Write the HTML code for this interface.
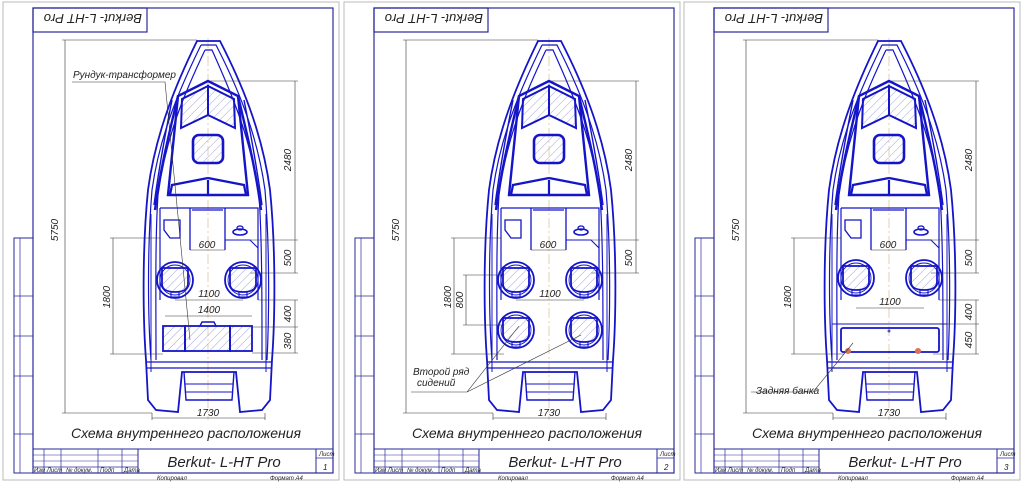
<!DOCTYPE html>
<html><head><meta charset="utf-8"><style>
html,body{margin:0;padding:0;background:#fff;}
svg{display:block;font-family:"Liberation Sans",sans-serif;}
.t{font-style:italic;fill:#222;}
</style></head><body>
<svg width="1024" height="483" viewBox="0 0 1024 483" xmlns="http://www.w3.org/2000/svg">
<defs>
<pattern id="h" width="6" height="6" patternUnits="userSpaceOnUse" patternTransform="rotate(45)">
<line x1="0" y1="0" x2="0" y2="6" stroke="#8a8ad0" stroke-width="0.8"/></pattern>
<g id="frame">
 <rect x="3" y="2" width="336" height="478" fill="none" stroke="#bbb" stroke-width="1"/>
 <rect x="33" y="8" width="300" height="465" fill="none" stroke="#2a2a9a" stroke-width="1.2"/>
 <rect x="33" y="8" width="114" height="24" fill="none" stroke="#2a2a9a" stroke-width="1.2"/>
 <rect x="14" y="238" width="19" height="235" fill="none" stroke="#2a2a9a" stroke-width="1"/>
 <line x1="20" y1="238" x2="20" y2="473" stroke="#2a2a9a" stroke-width="0.7"/>
 <line x1="14" y1="296" x2="33" y2="296" stroke="#2a2a9a" stroke-width="0.7"/>
 <line x1="14" y1="336" x2="33" y2="336" stroke="#2a2a9a" stroke-width="0.7"/>
 <line x1="14" y1="376" x2="33" y2="376" stroke="#2a2a9a" stroke-width="0.7"/>
 <line x1="14" y1="434" x2="33" y2="434" stroke="#2a2a9a" stroke-width="0.7"/>
 <rect x="33" y="449" width="300" height="24" fill="none" stroke="#2a2a9a" stroke-width="1"/>
 <line x1="138" y1="449" x2="138" y2="473" stroke="#2a2a9a" stroke-width="1"/>
 <line x1="316" y1="449" x2="316" y2="473" stroke="#2a2a9a" stroke-width="1"/>
 <line x1="316" y1="458" x2="333" y2="458" stroke="#2a2a9a" stroke-width="0.7"/>
 <line x1="44" y1="449" x2="44" y2="473" stroke="#2a2a9a" stroke-width="0.7"/>
 <line x1="61" y1="449" x2="61" y2="473" stroke="#2a2a9a" stroke-width="0.7"/>
 <line x1="98" y1="449" x2="98" y2="473" stroke="#2a2a9a" stroke-width="0.7"/>
 <line x1="122" y1="449" x2="122" y2="473" stroke="#2a2a9a" stroke-width="0.7"/>
 <line x1="33" y1="455" x2="138" y2="455" stroke="#2a2a9a" stroke-width="0.5"/>
 <line x1="33" y1="461" x2="138" y2="461" stroke="#2a2a9a" stroke-width="0.5"/>
 <line x1="33" y1="467" x2="138" y2="467" stroke="#2a2a9a" stroke-width="0.7"/>
 <line x1="208" y1="38" x2="208" y2="420" stroke="#d8b080" stroke-width="0.6" stroke-dasharray="10 3 2 3"/>
 <g fill="none" stroke="#1414c8">
  <path d="M197 41 L220 41 C240 80 262 130 270 190 C276 250 275 320 272 360 L270 400 L262 410 L240 412 L236 372 L182 372 L178 412 L156 410 L148 400 L146 360 C143 320 142 250 148 190 C156 130 178 80 197 41 Z" stroke-width="1.8"/>
  <path d="M201 45 L216 45 C236 84 257 132 265 190 C270 250 269 320 267 360 M201 45 C182 84 160 132 152 190 C147 250 148 320 151 360" stroke-width="1.2"/>
  <path d="M205 50 L212 50 C230 90 250 135 259 195 C262 240 262 300 262 360 M205 50 C186 90 166 135 158 195 C155 240 156 300 156 360" stroke-width="1.2"/>
  <path d="M151 214 L151 372 M266 214 L266 372" stroke-width="1"/>
  <line x1="146" y1="362" x2="272" y2="362" stroke-width="1.2"/>
  <line x1="146" y1="368" x2="272" y2="368" stroke-width="1.2"/>
  <path d="M184 372 L186 400 L232 400 L234 372" stroke-width="1.4"/>
  <line x1="185" y1="384" x2="233" y2="384" stroke-width="0.9"/>
  <line x1="185" y1="392" x2="233" y2="392" stroke-width="0.9"/>
  <path d="M208 81 L178 96 L168 195 L248 195 L238 96 Z" stroke-width="2.4"/>
  <path d="M208 86 L182 99 L181 128 L208 115 Z M208 86 L234 99 L235 128 L208 115 Z" stroke-width="2" fill="url(#h)"/>
  <path d="M178 96 C170 130 160 170 155 210 M238 96 C246 130 256 170 261 210" stroke-width="2.4"/>
  <path d="M172 100 C164 140 158 175 154 205 M244 100 C252 140 258 175 262 205" stroke-width="1.4"/>
  <path d="M208 178 L172 185 L170 195 M208 178 L244 185 L246 195 M208 180 L208 195" stroke-width="2.2"/>
  <rect x="193" y="135" width="30" height="28" rx="6" stroke-width="2.6" fill="url(#h)"/>
  <path d="M160 208 L258 208 L258 300 M160 208 L160 300" stroke-width="1.2"/>
  <path d="M190 208 L190 250 M225 208 L225 250 M192 210 L223 210" stroke-width="1.3"/>
  <path d="M164 220 L180 220 L180 238 L170 238 L164 230 Z" stroke-width="1.3"/>
  <path d="M225 240 L250 240 L258 248" stroke-width="1.1"/>
  <ellipse cx="240" cy="232" rx="7" ry="3" stroke-width="1.6"/>
  <ellipse cx="240" cy="228" rx="3" ry="2" stroke-width="1.3"/>
 </g>
</g>
<g id="seat" fill="none" stroke="#1414c8">
 <circle cx="0" cy="0" r="18" stroke-width="1.8"/>
 <circle cx="0" cy="0" r="15" stroke-width="0.9"/>
 <path d="M-13 -12 L13 -12 L13 4 C13 10 7 12 0 12 C-7 12 -13 10 -13 4 Z" stroke-width="1.8" fill="url(#h)"/>
 <rect x="-4" y="12" width="8" height="5" stroke-width="1.1"/>
</g>
<g id="dims" fill="none" stroke="#333" stroke-width="0.6">
 <line x1="62" y1="40" x2="197" y2="40"/><line x1="62" y1="413" x2="152" y2="413"/>
 <line x1="65" y1="40" x2="65" y2="413"/>
 <line x1="210" y1="81" x2="298" y2="81"/><line x1="250" y1="240" x2="298" y2="240"/><line x1="250" y1="273" x2="298" y2="273"/>
 <line x1="295" y1="81" x2="295" y2="273"/>
 <line x1="152" y1="413" x2="152" y2="420"/><line x1="265" y1="413" x2="265" y2="420"/>
 <line x1="152" y1="418" x2="265" y2="418"/>
 <line x1="190" y1="250" x2="225" y2="250"/>
 <line x1="110" y1="238" x2="160" y2="238"/>
 <line x1="113" y1="238" x2="113" y2="354"/>
</g>
</defs>

<g><use href="#frame"/><use href="#dims"/></g>
<g transform="translate(341,0)"><use href="#frame"/><use href="#dims"/></g>
<g transform="translate(681,0)"><use href="#frame"/><use href="#dims"/></g>

<g>
 <use href="#seat" x="175" y="280"/><use href="#seat" x="243" y="280"/>
 <g fill="url(#h)" stroke="#1414c8" stroke-width="1.8">
  <rect x="163" y="326" width="22" height="25"/><rect x="185" y="326" width="45" height="25"/><rect x="230" y="326" width="22" height="25"/>
 </g>
 <path d="M200 326 L202 322 L214 322 L216 326" fill="none" stroke="#1414c8" stroke-width="1.4"/>
 <g fill="none" stroke="#333" stroke-width="0.6">
  <line x1="110" y1="354" x2="163" y2="354"/>
  <line x1="175" y1="300" x2="243" y2="300"/><line x1="165" y1="316" x2="252" y2="316"/>
  <line x1="258" y1="300" x2="298" y2="300"/><line x1="252" y1="327" x2="298" y2="327"/><line x1="252" y1="353" x2="298" y2="353"/>
  <line x1="295" y1="300" x2="295" y2="353"/>
  <path d="M72 82 L165 82 L190 340"/>
 </g>
</g>
<g transform="translate(341,0)">
 <use href="#seat" x="175" y="280"/><use href="#seat" x="243" y="280"/>
 <use href="#seat" x="175" y="330"/><use href="#seat" x="243" y="330"/>
 <g fill="none" stroke="#333" stroke-width="0.6">
  <line x1="110" y1="354" x2="163" y2="354"/>
  <line x1="175" y1="300" x2="243" y2="300"/>
  <line x1="122" y1="275" x2="160" y2="275"/><line x1="122" y1="325" x2="160" y2="325"/><line x1="125" y1="275" x2="125" y2="325"/>
  <path d="M70 392 L126 392 L178 326 M126 392 L240 335"/>
 </g>
</g>
<g transform="translate(681,0)">
 <use href="#seat" x="175" y="278"/><use href="#seat" x="243" y="278"/>
 <line x1="151" y1="324" x2="266" y2="324" stroke="#1414c8" stroke-width="1"/>
 <rect x="160" y="328" width="98" height="24" rx="2" fill="none" stroke="#1414c8" stroke-width="1.8"/>
 <circle cx="208" cy="331" r="1.5" fill="#5050c0"/>
 <circle cx="167" cy="351" r="3" fill="#e07050"/><circle cx="237" cy="351" r="3" fill="#e07050"/>
 <g fill="none" stroke="#333" stroke-width="0.6">
  <line x1="110" y1="354" x2="163" y2="354"/>
  <line x1="175" y1="308" x2="243" y2="308"/>
  <line x1="258" y1="300" x2="298" y2="300"/><line x1="252" y1="324" x2="298" y2="324"/><line x1="252" y1="354" x2="298" y2="354"/>
  <line x1="295" y1="300" x2="295" y2="354"/>
  <path d="M70 392 L132 392 L172 343"/>
 </g>
</g>

<g class="t">
 <text x="142" y="14" transform="rotate(180 142 14)" font-size="13" class="t" dy="0" style="dominant-baseline:auto">&#8203;</text>
 <text transform="translate(142,14) rotate(180)" font-size="13">Berkut- L-HT Pro</text>
 <text transform="translate(483,14) rotate(180)" font-size="13">Berkut- L-HT Pro</text>
 <text transform="translate(823,14) rotate(180)" font-size="13">Berkut- L-HT Pro</text>
</g>
<g class="t" font-size="10">
 <text x="73" y="78">Рундук-трансформер</text>
 <text x="413" y="375">Второй ряд</text><text x="417" y="386">сидений</text>
 <text x="756" y="394">Задняя банка</text>
</g>
<g class="t" font-size="10" text-anchor="middle">
 <text transform="translate(58,230) rotate(-90)">5750</text>
 <text transform="translate(399,230) rotate(-90)">5750</text>
 <text transform="translate(739,230) rotate(-90)">5750</text>
 <text transform="translate(291,160) rotate(-90)">2480</text>
 <text transform="translate(632,160) rotate(-90)">2480</text>
 <text transform="translate(972,160) rotate(-90)">2480</text>
 <text transform="translate(291,258) rotate(-90)">500</text>
 <text transform="translate(632,258) rotate(-90)">500</text>
 <text transform="translate(972,258) rotate(-90)">500</text>
 <text transform="translate(110,297) rotate(-90)">1800</text>
 <text transform="translate(451,297) rotate(-90)">1800</text>
 <text transform="translate(791,297) rotate(-90)">1800</text>
 <text transform="translate(291,314) rotate(-90)">400</text>
 <text transform="translate(291,341) rotate(-90)">380</text>
 <text transform="translate(972,312) rotate(-90)">400</text>
 <text transform="translate(972,340) rotate(-90)">450</text>
 <text transform="translate(463,300) rotate(-90)">800</text>
 <text x="208" y="416">1730</text><text x="549" y="416">1730</text><text x="889" y="416">1730</text>
 <text x="207" y="248">600</text><text x="548" y="248">600</text><text x="888" y="248">600</text>
 <text x="209" y="297">1100</text><text x="550" y="297">1100</text><text x="890" y="305">1100</text>
 <text x="209" y="313">1400</text>
</g>
<g class="t" font-size="14" text-anchor="middle">
 <text x="186" y="438">Схема внутреннего расположения</text>
 <text x="527" y="438">Схема внутреннего расположения</text>
 <text x="867" y="438">Схема внутреннего расположения</text>
</g>
<g class="t" font-size="15" text-anchor="middle">
 <text x="224" y="467">Berkut- L-HT Pro</text>
 <text x="565" y="467">Berkut- L-HT Pro</text>
 <text x="905" y="467">Berkut- L-HT Pro</text>
</g>
<g class="t" font-size="6">
 <text x="319" y="456">Лист</text><text x="323" y="470" font-size="8">1</text>
 <text x="660" y="456">Лист</text><text x="664" y="470" font-size="8">2</text>
 <text x="1000" y="456">Лист</text><text x="1004" y="470" font-size="8">3</text>
 <text x="34" y="472">Изм Лист</text><text x="66" y="472">№ докум.</text><text x="100" y="472">Подп</text><text x="124" y="472">Дата</text>
 <text x="375" y="472">Изм Лист</text><text x="407" y="472">№ докум.</text><text x="441" y="472">Подп</text><text x="465" y="472">Дата</text>
 <text x="715" y="472">Изм Лист</text><text x="747" y="472">№ докум.</text><text x="781" y="472">Подп</text><text x="805" y="472">Дата</text>
 <text x="157" y="480">Копировал</text><text x="270" y="480">Формат   А4</text>
 <text x="498" y="480">Копировал</text><text x="611" y="480">Формат   А4</text>
 <text x="838" y="480">Копировал</text><text x="951" y="480">Формат   А4</text>
</g>
</svg>
</body></html>
